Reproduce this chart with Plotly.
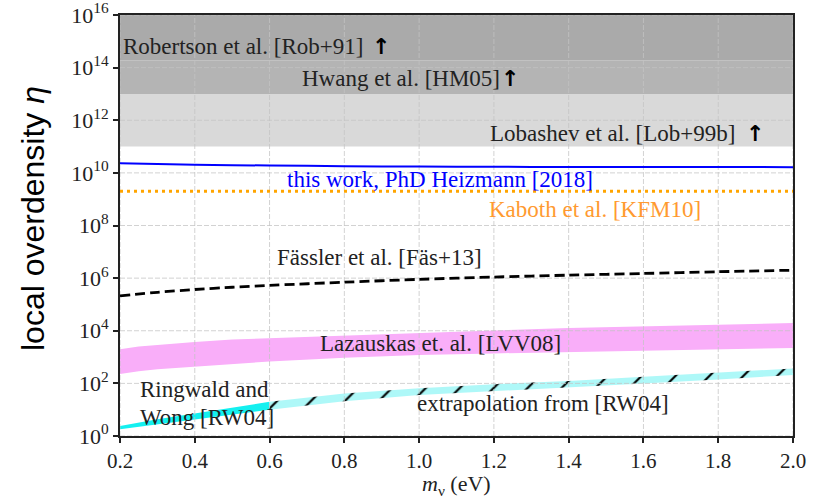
import plotly.graph_objects as go

# ---------------- data ----------------
# exclusion bands (lower, upper)
robertson_band = [1.9e14, 1e16]
hwang_band = [1e13, 1.9e14]
lobashev_band = [1e11, 1e13]

# this work
tw_m = [0.2, 0.4, 0.6, 0.8, 1.0, 1.2, 1.4, 1.6, 1.8, 2.0]
this_work = [2.3e10, 2.05e10, 1.9e10, 1.8e10, 1.73e10, 1.7e10, 1.68e10, 1.67e10, 1.66e10, 1.65e10]
# Kaboth
kb_m = [0.2, 2.0]
kaboth = [2e9, 2e9]
# Faessler
fa_m = [0.2, 0.3, 0.4, 0.5, 0.6, 0.8, 1.0, 1.2, 1.4, 1.6, 1.8, 2.0]
faessler = [2.1e5, 2.9e5, 3.7e5, 4.5e5, 5.3e5, 7.0e5, 9.0e5, 1.1e6, 1.3e6, 1.5e6, 1.75e6, 2.0e6]
# Lazauskas band
laz_m = [0.2, 0.25, 0.3, 0.4, 0.5, 0.6, 0.8, 1.0, 1.2, 1.4, 1.6, 1.8, 2.0]
laz_hi = [2000, 2500, 2950, 3700, 4600, 5300, 6800, 8200, 10200, 12600, 14800, 17000, 19500]
laz_lo = [225, 290, 345, 440, 560, 680, 950, 1200, 1380, 1560, 1780, 1980, 2200]
# Ringwald & Wong (computed part)
rw_m = [0.2, 0.3, 0.4, 0.5, 0.6]
rw_hi = [2.4, 4.3, 7.3, 12, 20]
rw_lo = [1.8, 2.8, 4.1, 6.5, 10]
# extrapolation
ex_m = [0.6, 0.8, 1.0, 1.2, 1.4, 1.6, 1.8, 2.0]
ex_hi = [20, 41, 65, 93, 123, 178, 250, 370]
ex_lo = [10, 21, 36, 50, 68, 100, 141, 208]

x_ticks = [0.2, 0.4, 0.6, 0.8, 1.0, 1.2, 1.4, 1.6, 1.8, 2.0]
x_ticktext = ["0.2", "0.4", "0.6", "0.8", "1.0", "1.2", "1.4", "1.6", "1.8", "2.0"]
y_exps = [0, 2, 4, 6, 8, 10, 12, 14, 16]
y_ticks = [10.0 ** e for e in y_exps]
y_ticktext = ["10<sup>%d</sup>" % e for e in y_exps]

XMIN, XMAX = 0.2, 2.0
SERIF = "Liberation Serif"
TXT = 23

fig = go.Figure()

def band(x, lo, hi, color, **kw):
    xs = list(x) + list(x)[::-1]
    ys = list(lo) + list(hi)[::-1]
    fig.add_trace(go.Scatter(x=xs, y=ys, fill="toself", fillcolor=color,
                             line=dict(width=0), mode="lines",
                             hoverinfo="skip", showlegend=False, **kw))

# gray bands
band([XMIN, XMAX], [robertson_band[0]] * 2, [robertson_band[1]] * 2, "#aaaaaa")
band([XMIN, XMAX], [hwang_band[0]] * 2, [hwang_band[1]] * 2, "#b4b4b4")
band([XMIN, XMAX], [lobashev_band[0]] * 2, [lobashev_band[1]] * 2, "#d9d9d9")
# Lazauskas
band(laz_m, laz_lo, laz_hi, "#f9aef9")
# RW
band(rw_m, rw_lo, rw_hi, "#14f0f0")
band(ex_m, ex_lo, ex_hi, "#aef8f8",
     fillpattern=dict(shape="/", size=24, solidity=0.09, fgcolor="black",
                      bgcolor="#aef8f8", fillmode="replace"))

# grid lines (dashed, above fills, below lines)
GRID = dict(color="rgba(195,195,195,0.75)", width=1, dash="5px,2px")
gx, gy = [], []
for v in y_ticks:
    gx += [XMIN, XMAX, None]
    gy += [v, v, None]
fig.add_trace(go.Scatter(x=gx, y=gy, mode="lines", line=GRID, hoverinfo="skip", showlegend=False))
gx, gy = [], []
for v in x_ticks:
    gx += [v, v, None]
    gy += [y_ticks[0], y_ticks[-1], None]
fig.add_trace(go.Scatter(x=gx, y=gy, mode="lines", line=GRID, hoverinfo="skip", showlegend=False))

# lines
fig.add_trace(go.Scatter(x=tw_m, y=this_work, mode="lines",
                         line=dict(color="#0000ff", width=2, shape="spline", smoothing=0.6),
                         showlegend=False))
fig.add_trace(go.Scatter(x=kb_m, y=kaboth, mode="lines", line=dict(color="#ffa500", width=3, dash="3px,4px"),
                         showlegend=False))
fig.add_trace(go.Scatter(x=fa_m, y=faessler, mode="lines",
                         line=dict(color="black", width=2.8, dash="10px,5px", shape="spline", smoothing=0.6),
                         showlegend=False))

# annotations
def txt(x, ylog, text, color="#222222", size=TXT, family=SERIF, xanchor="left"):
    fig.add_annotation(x=x, y=ylog, text=text, showarrow=False, xanchor=xanchor, yanchor="middle",
                       font=dict(family=family, size=size, color=color), align="left")

ARW = dict(color="black", size=22, family="DejaVu Sans", xanchor="center")
txt(0.2027, 14.81, "Robertson et al. [Rob+91]")
txt(0.897, 14.79, "<b>↑</b>", **ARW)
txt(0.6814, 13.60, "Hwang et al. [HM05]")
txt(1.243, 13.57, "<b>↑</b>", **ARW)
txt(1.184, 11.51, "Lobashev et al. [Lob+99b]")
txt(1.898, 11.48, "<b>↑</b>", **ARW)
txt(0.641, 9.76, "this work, PhD Heizmann [2018]", color="#0000ff")
txt(1.1815, 8.62, "Kaboth et al. [KFM10]", color="#ff9a30")
txt(0.6145, 6.80, "Fässler et al. [Fäs+13]")
txt(0.7296, 3.53, "Lazauskas et. al. [LVV08]")
txt(0.248, 1.78, "Ringwald and")
txt(0.248, 0.72, "Wong [RW04]")
txt(0.989, 1.25, "extrapolation from [RW04]")

# axis titles
fig.add_annotation(xref="paper", yref="paper", x=(33 - 120) / 673, y=(436 - 218) / 421,
                   text="local overdensity <i>η</i>", textangle=-90, showarrow=False,
                   xanchor="center", yanchor="middle",
                   font=dict(family="Liberation Sans", size=32, color="black"))
fig.add_annotation(xref="paper", yref="paper", x=0.5, y=(436 - 485) / 421,
                   text="<i>m</i><sub>ν</sub> (eV)", showarrow=False, xanchor="center", yanchor="middle",
                   font=dict(family=SERIF, size=22, color="#222222"))

axis_common = dict(showline=True, linecolor="#222222", linewidth=2, mirror=True, ticks="outside",
                   ticklen=5, tickwidth=1.5, tickcolor="#222222", showgrid=False, zeroline=False,
                   automargin=False, ticklabeloverflow="allow")
fig.update_xaxes(range=[XMIN, XMAX], tickvals=x_ticks, ticktext=x_ticktext,
                 tickfont=dict(family=SERIF, size=21, color="#222222"), **axis_common)
fig.update_yaxes(type="log", range=[0, 16], tickvals=y_ticks, ticktext=y_ticktext,
                 tickfont=dict(family=SERIF, size=22, color="#222222"), **axis_common)

fig.update_layout(width=821, height=498, margin=dict(l=120, r=28, t=15, b=62),
                  plot_bgcolor="white", paper_bgcolor="white", showlegend=False)

fig.write_html("out.html")
